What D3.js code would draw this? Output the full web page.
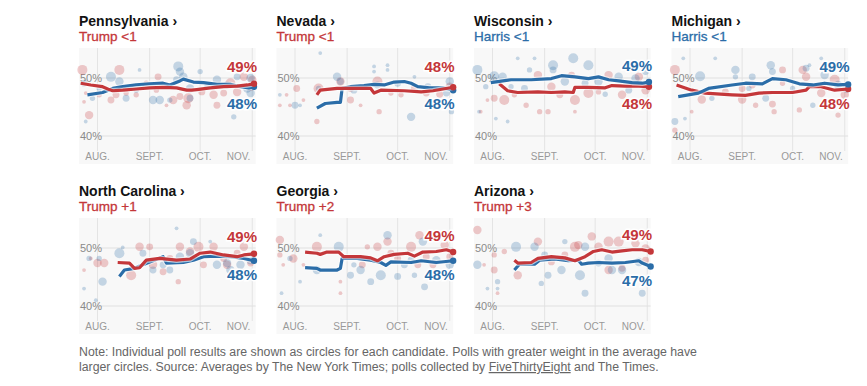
<!DOCTYPE html>
<html lang="en">
<head>
<meta charset="UTF-8">
<script src="https://d3js.org/d3.v7.min.js"></script>
<style>
  body { margin: 0; background: #fff; font-family: "Liberation Sans", Arial, sans-serif; }
</style>
</head>
<body>
<div id="chart"></div>
<script>
// ---- data (x = days after July 21, 2024) ----
const states = ["Pennsylvania", "Nevada", "Wisconsin", "Michigan", "North Carolina", "Georgia", "Arizona"];
const leads = ["Trump <1", "Trump <1", "Harris <1", "Harris <1", "Trump +1", "Trump +2", "Trump +3"];
const trumpFinal = [49, 48, 48, 48, 49, 49, 49];
const harrisFinal = [48, 48, 49, 49, 48, 48, 47];
const monthLabels = ["AUG.", "SEPT.", "OCT.", "NOV."];
const monthStarts = ["2024-08-01", "2024-09-01", "2024-10-01", "2024-11-01"];
const yTicks = [40, 50];

// polling averages [day, pct]
const paTrumpAvg = [[1,49.1],[7,48.8],[14,48.5],[18,48.0],[20,47.8],[26,47.9],[34,48.1],[42,48.3],[50,48.4],[58,48.3],[64,47.9],[67,47.9],[70,48.0],[78,48.3],[86,48.5],[94,48.6],[100,48.8],[104,49.0]];
const paHarrisAvg = [[5,47.1],[14,47.5],[20,48.2],[26,48.5],[34,48.8],[42,49.0],[50,49.1],[54,48.8],[60,49.5],[62,49.8],[68,49.3],[74,49.2],[82,48.9],[90,48.9],[96,48.5],[101,48.3],[104,48.5]];
const nvTrumpAvg = [[24,47.1],[26,47.9],[36,48.2],[44,48.2],[56,48.2],[58,47.4],[62,47.9],[76,47.8],[86,47.6],[93,47.8],[99,48.1],[105,48.4]];
const nvHarrisAvg = [[24,44.8],[29,45.6],[36,45.8],[38,45.8],[39,48.2],[44,48.5],[52,48.7],[58,48.9],[64,48.8],[70,49.3],[76,49.4],[80,49.1],[84,48.5],[91,48.3],[99,48.3],[105,47.9]];
const wiTrumpAvg = [[15,49.0],[20,47.8],[26,47.5],[38,47.6],[46,47.5],[54,47.6],[59,47.5],[60,48.4],[68,48.4],[78,48.3],[82,48.7],[90,48.6],[98,48.6],[104,48.5]];
const wiHarrisAvg = [[10,49.2],[22,49.7],[34,49.7],[46,49.9],[52,50.4],[60,50.2],[68,49.9],[74,50.2],[80,49.7],[86,49.5],[94,49.2],[100,49.1],[104,49.3]];
const miTrumpAvg = [[3,48.8],[12,47.9],[20,47.4],[36,47.1],[44,47.0],[52,47.4],[60,47.5],[72,47.5],[80,47.9],[82,48.5],[89,48.5],[97,47.9],[105,48.1]];
const miHarrisAvg = [[4,46.8],[16,47.4],[22,48.2],[36,48.8],[44,49.1],[54,49.0],[60,49.9],[68,49.7],[76,49.0],[84,48.8],[91,49.1],[99,48.8],[105,48.9]];
const ncTrumpAvg = [[23,47.5],[30,47.4],[33,46.5],[36,46.6],[40,47.9],[48,48.2],[58,47.9],[66,48.1],[72,49.1],[78,49.3],[86,48.8],[94,48.5],[98,48.8],[104,49.0]];
const ncHarrisAvg = [[24,45.1],[27,46.2],[33,46.5],[42,47.6],[50,48.5],[52,47.4],[62,47.5],[68,47.9],[74,48.5],[82,48.6],[90,48.5],[98,48.2],[104,47.8]];
const gaTrumpAvg = [[17,49.3],[24,49.1],[26,48.9],[30,49.3],[37,49.3],[40,48.5],[50,48.5],[56,48.3],[60,47.8],[64,48.5],[70,48.9],[78,49.1],[82,48.6],[87,49.3],[95,49.4],[101,49.7],[105,49.3]];
const gaHarrisAvg = [[17,46.6],[24,46.5],[26,46.2],[36,46.2],[38,46.5],[39,48.2],[48,48.2],[56,47.9],[62,47.5],[65,47.0],[68,47.6],[80,47.5],[86,47.8],[95,47.5],[105,47.8]];
const azTrumpAvg = [[24,47.9],[26,47.4],[34,47.5],[38,48.2],[46,48.5],[54,48.3],[60,47.8],[66,48.5],[71,49.4],[76,49.7],[82,49.3],[88,49.5],[94,49.7],[100,49.7],[105,49.4]];
const azHarrisAvg = [[24,46.2],[27,47.2],[36,47.2],[39,47.9],[48,48.1],[56,47.8],[62,47.9],[64,47.2],[68,47.4],[74,47.5],[82,47.4],[90,47.5],[98,47.8],[100,47.4],[105,46.8]];

// individual polls [day, pct, weight]
const paTrumpPolls = [[2,51.4,6],[6,43.6,5],[24,51.4,6],[22,47.1,4],[19,46.2,4],[47,50.2,4],[56,46.2,5],[65,46.5,6],[64,45.3,5],[80,47.1,5],[82,45.3,4],[90,49.1,6],[98,50.2,5],[102,48.5,5],[94,47.6,5],[12,47.1,3],[34,47.1,3],[28,47.4,3],[40,49.1,3],[73,47.6,4],[60,46.8,4],[86,47.4,4],[4,47.4,2],[3,45.9,2],[46,47.9,3],[52,45.3,2],[103,49.7,5],[16,48.2,2]];
const paHarrisPolls = [[19,50.2,6],[24,49.4,5],[3,49.1,4],[4,42.5,2],[28,46.5,4],[44,46.2,5],[48,46.2,5],[59,52.0,6],[60,51.1,5],[62,50.2,5],[58,49.7,4],[66,48.2,5],[82,49.7,5],[88,48.8,4],[92,43.3,3],[100,48.2,5],[102,47.4,5],[94,50.2,4],[12,48.2,3],[8,46.5,3],[34,47.9,3],[72,51.1,3],[76,48.5,3],[66,46.5,4],[102,50.0,5],[36,51.4,2],[54,46.2,3]];
const nvTrumpPolls = [[12,48.2,4],[25,48.2,6],[24,42.5,3],[8,45.3,2],[38,49.4,5],[44,46.2,4],[50,45.3,2],[60,49.4,6],[61,44.2,3],[68,47.4,3],[74,47.1,3],[82,48.2,4],[89,47.4,4],[97,47.2,4],[103,48.5,5],[2,45.3,2],[6,47.1,2],[44,48.2,4],[16,46.2,2]];
const nvHarrisPolls = [[11,45.3,4],[36,50.2,5],[38,49.4,4],[26,54.3,2],[58,51.1,2],[66,52.2,2],[80,43.3,5],[82,50.2,2],[90,48.5,4],[103,49.4,5],[104,44.2,3],[46,47.9,4],[2,47.1,2],[14,45.3,2],[72,49.1,4],[60,48.8,4],[58,52.0,2],[66,51.4,2],[25,48.2,3],[101,47.4,4]];
const wiTrumpPolls = [[18,46.2,6],[12,46.5,4],[8,46.2,2],[4,44.2,2],[31,45.3,3],[38,50.5,5],[44,44.2,3],[46,48.5,5],[60,46.2,6],[68,47.4,6],[58,50.5,4],[80,50.5,5],[88,47.1,5],[96,45.3,3],[98,50.2,5],[102,47.9,5],[24,47.1,3],[74,47.6,3],[51,47.1,4],[39,44.2,3],[60,44.2,2]];
const wiHarrisPolls = [[2,51.4,6],[12,50.3,6],[17,50.2,5],[26,53.4,2],[36,53.4,2],[47,52.2,6],[47,51.4,4],[59,53.4,6],[68,52.2,6],[54,49.4,5],[74,49.4,5],[66,49.1,4],[86,50.2,5],[96,49.9,5],[102,48.8,5],[78,47.2,3],[33,51.4,3],[22,48.5,3],[30,48.2,4],[92,47.9,4],[102,51.1,4],[7,48.5,3],[13,43.0,2],[20,42.5,2],[3,44.2,2]];
const miTrumpPolls = [[2,51.4,6],[2,41.0,3],[18,46.3,5],[42,46.3,5],[48,48.8,4],[60,45.5,4],[61,44.2,3],[66,51.4,4],[76,44.5,3],[80,50.2,5],[89,47.4,5],[97,49.7,6],[99,43.6,3],[103,47.1,5],[32,47.6,4],[42,48.2,4],[12,44.2,2],[50,45.3,3],[78,51.4,5],[66,49.1,3]];
const miHarrisPolls = [[2,42.5,4],[17,50.3,6],[38,51.4,5],[38,50.2,3],[48,50.2,4],[59,52.2,5],[60,51.1,4],[80,51.7,4],[82,52.2,2],[89,53.4,2],[91,50.5,5],[99,48.8,5],[104,48.2,5],[56,46.5,4],[26,53.4,2],[7,53.4,2],[24,46.5,3],[72,48.2,3],[46,48.2,3],[84,45.3,3],[8,43.0,2],[93,51.7,4]];
const ncTrumpPolls = [[11,47.4,5],[15,47.4,5],[31,45.3,6],[36,50.2,5],[42,50.2,4],[44,47.1,5],[50,45.9,4],[59,44.2,3],[60,50.2,5],[71,50.2,6],[80,50.2,5],[88,47.1,5],[98,50.2,5],[102,47.4,4],[7,48.2,2],[3,46.2,2],[54,48.2,4],[74,47.1,4],[86,48.2,4],[66,49.4,5],[94,49.1,4]];
const ncHarrisPolls = [[14,44.2,5],[12,48.2,3],[24,49.1,6],[26,50.1,2],[50,47.1,4],[54,46.2,4],[58,53.4,2],[60,48.5,5],[66,49.1,5],[68,51.1,4],[78,51.1,2],[82,47.1,5],[88,47.4,5],[90,46.2,5],[96,47.1,5],[102,47.9,5],[10,41.0,2],[3,43.0,2],[44,46.2,4],[6,48.2,3],[38,49.1,4]];
const gaTrumpPolls = [[2,51.4,5],[2,48.8,3],[10,48.2,5],[24,50.2,6],[38,44.2,2],[38,42.2,2],[51,47.1,4],[60,50.2,5],[66,51.1,5],[68,49.1,4],[80,50.2,6],[85,52.2,5],[84,47.1,4],[93,47.1,4],[100,50.5,5],[103,48.5,4],[4,47.1,2],[72,48.2,4],[89,48.5,4],[54,50.2,3],[16,47.1,2]];
const gaHarrisPolls = [[37,50.2,6],[24,46.2,5],[26,52.2,2],[44,45.3,4],[50,46.2,5],[56,44.2,4],[62,45.3,6],[66,52.2,5],[72,45.1,4],[76,47.1,4],[87,51.1,5],[88,43.3,4],[95,47.9,5],[103,47.1,5],[3,42.2,2],[8,48.2,3],[82,45.3,3],[80,47.9,4],[46,47.1,3],[14,44.2,2]];
const azTrumpPolls = [[2,53.1,5],[12,46.2,4],[14,42.2,2],[18,49.4,3],[26,45.3,5],[38,51.1,5],[46,47.6,4],[60,50.2,6],[62,50.5,5],[70,52.0,5],[74,50.2,5],[80,51.1,6],[86,51.1,6],[96,50.8,5],[102,49.9,5],[88,46.5,4],[6,47.1,2],[12,48.8,3],[54,48.8,4],[102,47.9,4],[80,46.2,5]];
const azHarrisPolls = [[2,47.1,5],[14,44.2,3],[8,43.0,2],[25,50.2,6],[36,50.2,5],[40,43.9,3],[44,45.3,4],[52,46.2,5],[63,45.3,6],[66,42.2,4],[66,50.2,5],[80,48.2,5],[82,46.2,5],[88,46.2,5],[100,42.2,4],[98,47.6,5],[74,47.4,4],[42,48.8,4],[54,51.1,3],[14,43.0,2]];

const trumpAvg = [paTrumpAvg, nvTrumpAvg, wiTrumpAvg, miTrumpAvg, ncTrumpAvg, gaTrumpAvg, azTrumpAvg];
const harrisAvg = [paHarrisAvg, nvHarrisAvg, wiHarrisAvg, miHarrisAvg, ncHarrisAvg, gaHarrisAvg, azHarrisAvg];
const trumpPolls = [paTrumpPolls, nvTrumpPolls, wiTrumpPolls, miTrumpPolls, ncTrumpPolls, gaTrumpPolls, azTrumpPolls];
const harrisPolls = [paHarrisPolls, nvHarrisPolls, wiHarrisPolls, miHarrisPolls, ncHarrisPolls, gaHarrisPolls, azHarrisPolls];

// ---- layout ----
const W = 867, H = 386;
const RED = "#c4373a", BLUE = "#2b6da8";
const panelW = 180, bgH = 116;
const colX = [79, 276.5, 474, 671.5];
const rowY = [48, 218];

const start = new Date(2024, 6, 21);
const toDate = d => d3.timeDay.offset(start, d);
const parse = d3.timeParse("%Y-%m-%d");

const x = d3.scaleTime().domain([start, new Date(2024, 10, 5)]).range([0, panelW]);
const y = d3.scaleLinear().domain([40, 50]).range([88, 30]);
const rScale = d3.scaleLinear().domain([1, 6]).range([1.1, 5]);
const bgW = x(new Date(2024, 10, 3));

const svg = d3.select("#chart").append("svg")
    .attr("width", W)
    .attr("height", H);

const line = d3.line()
    .x(d => x(toDate(d[0])))
    .y(d => y(d[1]));

states.forEach((name, i) => {
    const g = svg.append("g")
        .attr("transform", "translate(" + colX[i % 4] + "," + rowY[Math.floor(i / 4)] + ")");

    const trumpLeads = leads[i].startsWith("Trump");

    // titles
    g.append("text")
        .attr("x", 0).attr("y", -22)
        .attr("font-size", 14).attr("font-weight", 700)
        .attr("fill", "#121212")
        .text(name + " \u203A");
    g.append("text")
        .attr("x", 0).attr("y", -7)
        .attr("font-size", 13.5)
        .attr("fill", trumpLeads ? RED : BLUE)
        .attr("stroke", trumpLeads ? RED : BLUE).attr("stroke-width", 0.3)
        .text(leads[i]);

    // background + grid
    g.append("rect")
        .attr("width", bgW).attr("height", bgH)
        .attr("fill", "#f8f8f8");

    g.selectAll(".vgrid")
        .data(monthStarts)
        .join("line")
        .attr("x1", d => x(parse(d))).attr("x2", d => x(parse(d)))
        .attr("y1", 0).attr("y2", 103)
        .attr("stroke", "#e4e4e4");

    g.selectAll(".hgrid")
        .data(yTicks)
        .join("line")
        .attr("x1", 18).attr("x2", bgW)
        .attr("y1", d => y(d)).attr("y2", d => y(d))
        .attr("stroke", "#e0e0e0");

    g.selectAll(".ylab")
        .data(yTicks)
        .join("text")
        .attr("x", 1).attr("y", d => y(d) + 4)
        .attr("font-size", 11).attr("fill", "#8a8a8a")
        .text(d => d + "%");

    g.selectAll(".mlab")
        .data(monthStarts)
        .join("text")
        .attr("x", (d, k) => x(parse(d)) + (k === 3 ? -2 : 0))
        .attr("y", 112)
        .attr("text-anchor", (d, k) => k === 3 ? "end" : "middle")
        .attr("font-size", 10).attr("fill", "#999")
        .text((d, k) => monthLabels[k]);

    // polls
    const dotsFor = (data, color) => g.append("g")
        .selectAll("circle")
        .data(data)
        .join("circle")
        .attr("cx", d => x(toDate(d[0])))
        .attr("cy", d => y(d[1]))
        .attr("r", d => rScale(d[2]))
        .attr("fill", color)
        .attr("fill-opacity", 0.26);
    dotsFor(trumpPolls[i], RED);
    dotsFor(harrisPolls[i], BLUE);

    // averages, leader drawn last
    const series = [
        { data: trumpAvg[i], color: RED },
        { data: harrisAvg[i], color: BLUE }
    ];
    if (trumpLeads) series.reverse();
    series.forEach(s => {
        g.append("path").datum(s.data)
            .attr("d", line).attr("fill", "none")
            .attr("stroke", "#fff").attr("stroke-opacity", 0.6)
            .attr("stroke-width", 5.5).attr("stroke-linejoin", "round");
        g.append("path").datum(s.data)
            .attr("d", line).attr("fill", "none")
            .attr("stroke", s.color)
            .attr("stroke-width", 3.2).attr("stroke-linejoin", "round");
        const last = s.data[s.data.length - 1];
        g.append("circle")
            .attr("cx", x(toDate(last[0]))).attr("cy", y(last[1]))
            .attr("r", 3.2).attr("fill", s.color);
    });

    // end labels
    const tEnd = trumpAvg[i][trumpAvg[i].length - 1][1];
    const hEnd = harrisAvg[i][harrisAvg[i].length - 1][1];
    const topY = Math.min(y(trumpLeads ? tEnd : hEnd) - 11, 24);
    const botY = Math.max(y(trumpLeads ? hEnd : tEnd) + 19, 61);
    const labels = [
        { v: trumpLeads ? trumpFinal[i] : harrisFinal[i], c: trumpLeads ? RED : BLUE, y: topY },
        { v: trumpLeads ? harrisFinal[i] : trumpFinal[i], c: trumpLeads ? BLUE : RED, y: botY }
    ];
    g.selectAll(".endlab")
        .data(labels)
        .join("text")
        .attr("x", 178).attr("y", d => d.y)
        .attr("text-anchor", "end")
        .attr("font-size", 15).attr("font-weight", 700)
        .attr("fill", d => d.c)
        .attr("stroke", "#fff").attr("stroke-width", 3).attr("paint-order", "stroke")
        .text(d => d.v + "%");
});

// note
const note = svg.append("g")
    .attr("font-size", 12.3)
    .attr("fill", "#666");
note.append("text")
    .attr("x", 79).attr("y", 356)
    .text("Note: Individual poll results are shown as circles for each candidate. Polls with greater weight in the average have");
const note2 = note.append("text")
    .attr("x", 79).attr("y", 371);
note2.append("tspan").text("larger circles. Source: Averages by The New York Times; polls collected by ");
note2.append("tspan").attr("text-decoration", "underline").text("FiveThirtyEight");
note2.append("tspan").text(" and The Times.");
</script>
</body>
</html>
